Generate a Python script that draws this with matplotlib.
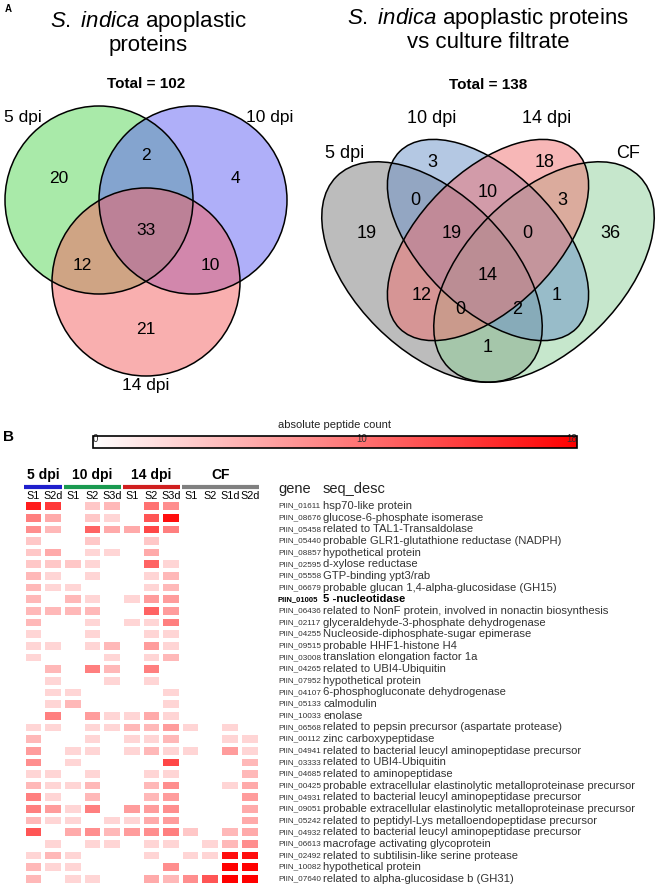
import matplotlib
matplotlib.use('Agg')
import matplotlib.pyplot as plt
import matplotlib.transforms as mtransforms
from matplotlib.patches import Circle, Ellipse
from matplotlib.colors import LinearSegmentedColormap
import numpy as np

plt.rcParams['font.family'] = ['Liberation Sans', 'DejaVu Sans']
plt.rcParams['mathtext.fontset'] = 'custom'
plt.rcParams['mathtext.rm'] = 'Liberation Sans'
plt.rcParams['mathtext.it'] = 'Liberation Sans:italic'

# ---- data: 3-set venn (apoplastic proteins) ----
venn3_sets = ['5 dpi', '10 dpi', '14 dpi']
venn3_regions = ['100', '110', '010', '111', '101', '011', '001']
venn3_values = [20, 2, 4, 33, 12, 10, 21]

# ---- data: 4-set venn (apoplastic vs culture filtrate) ----
venn4_sets = ['5 dpi', '10 dpi', '14 dpi', 'CF']
venn4_regions = ['1000', '0100', '0010', '0001', '1100', '0110', '0011', '1110',
                 '0111', '1010', '1111', '0101', '1011', '1101', '1001']
venn4_values = [19, 3, 18, 36, 0, 10, 3, 19, 0, 12, 14, 1, 0, 2, 1]

# ---- data: heatmap ----
groups = ['5 dpi', '10 dpi', '14 dpi', 'CF']
group_sizes = [2, 3, 3, 4]
samples = ['S1', 'S2d', 'S1', 'S2', 'S3d', 'S1', 'S2', 'S3d', 'S1', 'S2', 'S1d', 'S2d']
genes = ['PIIN_01611', 'PIIN_08676', 'PIIN_05458', 'PIIN_05440', 'PIIN_08857', 'PIIN_02595',
         'PIIN_05558', 'PIIN_06679', 'PIIN_01005', 'PIIN_06436', 'PIIN_02117', 'PIIN_04255',
         'PIIN_09515', 'PIIN_03008', 'PIIN_04265', 'PIIN_07952', 'PIIN_04107', 'PIIN_05133',
         'PIIN_10033', 'PIIN_06568', 'PIIN_00112', 'PIIN_04941', 'PIIN_03333', 'PIIN_04685',
         'PIIN_00425', 'PIIN_04931', 'PIIN_09051', 'PIIN_05242', 'PIIN_04932', 'PIIN_06613',
         'PIIN_02492', 'PIIN_10082', 'PIIN_07640']
seq_desc = ['hsp70-like protein',
            'glucose-6-phosphate isomerase',
            'related to TAL1-Transaldolase',
            'probable GLR1-glutathione reductase (NADPH)',
            'hypothetical protein',
            'd-xylose reductase',
            'GTP-binding ypt3/rab',
            'probable glucan 1,4-alpha-glucosidase (GH15)',
            '5 -nucleotidase',
            'related to NonF protein, involved in nonactin biosynthesis',
            'glyceraldehyde-3-phosphate dehydrogenase',
            'Nucleoside-diphosphate-sugar epimerase',
            'probable HHF1-histone H4',
            'translation elongation factor 1a',
            'related to UBI4-Ubiquitin',
            'hypothetical protein',
            '6-phosphogluconate dehydrogenase',
            'calmodulin',
            'enolase',
            'related to pepsin precursor (aspartate protease)',
            'zinc carboxypeptidase',
            'related to bacterial leucyl aminopeptidase precursor',
            'related to UBI4-Ubiquitin',
            'related to aminopeptidase',
            'probable extracellular elastinolytic metalloproteinase precursor',
            'related to bacterial leucyl aminopeptidase precursor',
            'probable extracellular elastinolytic metalloproteinase precursor',
            'related to peptidyl-Lys metalloendopeptidase precursor',
            'related to bacterial leucyl aminopeptidase precursor',
            'macrofage activating glycoprotein',
            'related to subtilisin-like serine protease',
            'hypothetical protein',
            'related to alpha-glucosidase b (GH31)']
bold_gene = 'PIIN_01005'
counts = [
    [16, 14, 0, 4, 5, 0, 10, 8, 0, 0, 0, 0],
    [9, 6, 0, 4, 3, 0, 12, 17, 0, 0, 0, 0],
    [8, 5, 0, 11, 6, 6, 13, 9, 0, 0, 0, 0],
    [4, 0, 0, 4, 0, 0, 4, 0, 0, 0, 0, 0],
    [4, 6, 0, 3, 3, 0, 6, 0, 0, 0, 0, 0],
    [4, 4, 4, 3, 0, 0, 11, 3, 0, 0, 0, 0],
    [5, 3, 0, 3, 0, 0, 3, 5, 0, 0, 0, 0],
    [5, 3, 3, 0, 0, 0, 3, 5, 0, 0, 0, 0],
    [5, 0, 5, 3, 0, 3, 7, 7, 0, 0, 0, 0],
    [5, 5, 5, 5, 0, 0, 11, 7, 0, 0, 0, 0],
    [5, 0, 0, 3, 0, 3, 3, 9, 0, 0, 0, 0],
    [3, 0, 0, 3, 0, 0, 3, 3, 0, 0, 0, 0],
    [3, 3, 0, 3, 5, 0, 7, 3, 0, 0, 0, 0],
    [3, 0, 0, 0, 3, 0, 3, 5, 0, 0, 0, 0],
    [0, 5, 0, 9, 5, 0, 9, 0, 0, 0, 0, 0],
    [0, 3, 0, 0, 3, 0, 3, 0, 0, 0, 0, 0],
    [0, 3, 3, 0, 0, 0, 0, 3, 0, 0, 0, 0],
    [0, 3, 5, 0, 0, 0, 0, 3, 0, 0, 0, 0],
    [0, 9, 0, 7, 3, 3, 6, 3, 0, 0, 0, 0],
    [3, 3, 0, 3, 3, 5, 5, 7, 3, 0, 3, 0],
    [5, 0, 0, 3, 0, 3, 3, 5, 0, 0, 3, 3],
    [7, 0, 3, 3, 0, 3, 5, 3, 3, 0, 7, 3],
    [8, 0, 3, 0, 0, 0, 0, 13, 0, 0, 0, 5],
    [3, 3, 0, 3, 0, 0, 3, 3, 0, 0, 0, 5],
    [5, 3, 3, 5, 0, 0, 5, 8, 0, 0, 3, 6],
    [9, 3, 0, 5, 0, 0, 5, 7, 0, 0, 0, 7],
    [9, 7, 3, 9, 0, 7, 7, 8, 0, 0, 0, 6],
    [5, 3, 3, 0, 3, 3, 6, 7, 0, 0, 0, 6],
    [12, 0, 6, 8, 5, 7, 8, 9, 4, 0, 5, 6],
    [0, 3, 0, 3, 3, 0, 3, 3, 0, 3, 5, 8],
    [3, 5, 3, 0, 0, 0, 3, 0, 3, 3, 17, 17],
    [5, 3, 3, 0, 0, 0, 0, 8, 0, 0, 18, 18],
    [5, 0, 3, 3, 0, 0, 6, 5, 8, 12, 18, 18],
]
count_max = 18

W, H = 658, 886
fig = plt.figure(figsize=(W / 100, H / 100), dpi=100)
ax = fig.add_axes([0, 0, 1, 1])
ax.set_xlim(0, W)
ax.set_ylim(H, 0)
ax.axis('off')

# ---------------- panel A, left venn ----------------
ax.text(8, 9, 'A', fontsize=7, fontweight='bold', ha='center', va='center')
ax.text(148, 21, r'$\mathit{S.\ indica}$ apoplastic', fontsize=16, ha='center', va='center')
ax.text(148, 45, 'proteins', fontsize=16, ha='center', va='center')
ax.text(146, 84, 'Total = %d' % sum(venn3_values), fontsize=11, fontweight='bold',
        ha='center', va='center')

c3_pos = [(99, 200), (193, 200), (146, 282)]
c3_col = ['#55d755', '#6060f5', '#f56060']
for (cx, cy), col in zip(c3_pos, c3_col):
    ax.add_patch(Circle((cx, cy), 94, facecolor=col, alpha=0.5, edgecolor='none'))
for cx, cy in c3_pos:
    ax.add_patch(Circle((cx, cy), 94, fill=False, edgecolor='black', lw=1.1))

v3_label_pos = {'100': (59, 178), '110': (146, 155), '010': (235, 178), '111': (146, 230),
                '101': (82, 266), '011': (210, 266), '001': (146, 330)}
for reg, val in zip(venn3_regions, venn3_values):
    x, y = v3_label_pos[reg]
    ax.text(x, y, str(val), fontsize=12.5, ha='center', va='center')
for name, (x, y) in zip(venn3_sets, [(23, 117), (270, 117), (146, 385)]):
    ax.text(x, y, name, fontsize=12.5, ha='center', va='center')

# ---------------- panel A, right venn ----------------
ax.text(488, 18, r'$\mathit{S.\ indica}$ apoplastic proteins', fontsize=16, ha='center', va='center')
ax.text(488, 42, 'vs culture filtrate', fontsize=16, ha='center', va='center')
ax.text(488, 85, 'Total = %d' % sum(venn4_values), fontsize=11, fontweight='bold',
        ha='center', va='center')

# draw order: 5 dpi, CF, 10 dpi, 14 dpi
e4 = [((432, 272), 270, 156, 45, '#7a7a7a'),
      ((544, 272), 270, 156, -45, '#8fd09a'),
      ((488, 240), 250, 136, 45, '#6b92c8'),
      ((488, 240), 250, 136, -45, '#f07070')]
for (cxy, w, h, ang, col) in e4:
    ax.add_patch(Ellipse(cxy, w, h, angle=ang, facecolor=col, alpha=0.5, edgecolor='none'))
for (cxy, w, h, ang, col) in e4:
    ax.add_patch(Ellipse(cxy, w, h, angle=ang, fill=False, edgecolor='black', lw=1.1))

v4_label_pos = {'1000': (367, 233), '0100': (432, 162), '0010': (545, 162), '0001': (610, 233),
                '1100': (415, 200), '0110': (488, 192), '0011': (562, 200), '1110': (452, 233),
                '0111': (527, 233), '1010': (422, 295), '1111': (488, 275), '0101': (557, 295),
                '1011': (460, 310), '1101': (517, 310), '1001': (488, 348)}
for reg, val in zip(venn4_regions, venn4_values):
    x, y = v4_label_pos[reg]
    ax.text(x, y, str(val), fontsize=13, ha='center', va='center')
for name, (x, y) in zip(venn4_sets, [(345, 153), (432, 118), (547, 118), (628, 153)]):
    ax.text(x, y, name, fontsize=13, ha='center', va='center')

# ---------------- panel B, heatmap ----------------
ax.text(8, 437, 'B', fontsize=11, fontweight='bold', ha='center', va='center')

cmap = LinearSegmentedColormap.from_list('wr', ['#ffffff', '#ff0000'])
data = np.array(counts, dtype=float)
nrow, ncol = data.shape

x0, x1, y0, y1 = 23.5, 259.5, 500.2, 884.7
hax = fig.add_axes([x0 / W, 1 - y1 / H, (x1 - x0) / W, (y1 - y0) / H])
mesh = hax.pcolormesh(data, cmap=cmap, vmin=0, vmax=count_max, edgecolors='white', linewidth=1.6)
hax.set_xlim(0, ncol)
hax.set_ylim(nrow, 0)
hax.axis('off')

# colorbar
cax = fig.add_axes([93 / W, 1 - 448 / H, (577 - 93) / W, 12 / H])
cb = fig.colorbar(mesh, cax=cax, orientation='horizontal', ticks=[0, 10, 18])
cb.outline.set_linewidth(1.2)
cax.tick_params(length=0, pad=-10, labelsize=7, colors='#333333')
tl = cax.get_xticklabels()
tl[0].set_ha('left')
tl[-1].set_ha('right')
ax.text(335, 425, 'absolute peptide count', fontsize=8, ha='center', va='center', color='#222222')

# column and group labels
tx = mtransforms.blended_transform_factory(hax.transData, ax.transData)
for j, s in enumerate(samples):
    ax.text(j + 0.5, 496, s, transform=tx, fontsize=7.8, ha='center', va='center')
group_cols = ['#1f1fcc', '#1a9a50', '#d01f1f', '#808080']
start = 0
for g, n, col in zip(groups, group_sizes, group_cols):
    ax.plot([start + 0.04, start + n - 0.04], [487, 487], transform=tx, color=col, lw=3,
            solid_capstyle='butt')
    ax.text(start + n / 2, 475, g, transform=tx, fontsize=10, fontweight='bold',
            ha='center', va='center')
    start += n

# gene id and description columns
ty = mtransforms.blended_transform_factory(ax.transData, hax.transData)
ax.text(278, 489, 'gene', fontsize=10.5, ha='left', va='center', color='#222222')
ax.text(323, 489, 'seq_desc', fontsize=10.5, ha='left', va='center', color='#222222')
for i, (g, d) in enumerate(zip(genes, seq_desc)):
    w = 'bold' if g == bold_gene else 'normal'
    c = 'black' if g == bold_gene else '#333333'
    ax.text(278, i + 0.5, g, transform=ty, fontsize=5.9 if w == 'normal' else 5.5,
            fontweight=w, color=c, ha='left', va='center')
    ax.text(323, i + 0.5, d, transform=ty, fontsize=8.1, fontweight=w, color=c,
            ha='left', va='center')

fig.savefig('out.png', dpi=100)
